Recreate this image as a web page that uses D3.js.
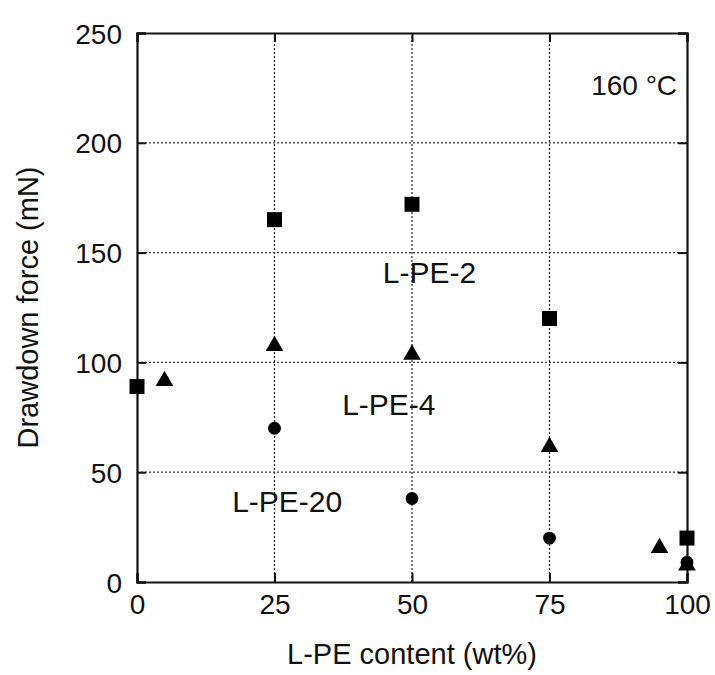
<!DOCTYPE html>
<html>
<head>
<meta charset="utf-8">
<script src="https://cdn.jsdelivr.net/npm/d3@7"></script>
<style>
  body { margin: 0; background: #fff; }
  svg { font-family: "Liberation Sans", Arial, sans-serif; }
</style>
</head>
<body>
<script>
const width = 715;
const height = 675;

const margin = { left: 137, right: 28, top: 33, bottom: 93 };

// data
const xTicks = [0, 25, 50, 75, 100];
const yTicks = [0, 50, 100, 150, 200, 250];

const lpe2X = [0, 25, 50, 75, 100];
const lpe2Y = [89, 165, 172, 120, 20];

const lpe4X = [5, 25, 50, 75, 95, 100];
const lpe4Y = [92, 108, 104, 62, 16, 8];

const lpe20X = [25, 50, 75, 100];
const lpe20Y = [70, 38, 20, 9];

// label anchors (data units, baseline)
const labels = [
    { text: "L-PE-2", x: 44.7, y: 136 },
    { text: "L-PE-4", x: 37.3, y: 76 },
    { text: "L-PE-20", x: 17.3, y: 32 }
];

let svg = d3.select("body").append("svg")
    .attr("width", width)
    .attr("height", height);

let xScale = d3.scaleLinear()
    .domain([0, 100])
    .range([margin.left, width - margin.right]);

let yScale = d3.scaleLinear()
    .domain([0, 250])
    .range([height - margin.bottom, margin.top]);

const x0 = xScale(0), x1 = xScale(100), y0 = yScale(0), y1 = yScale(250);

// dotted grid
svg.append("g").selectAll("line")
    .data(yTicks.filter(d => d > 0 && d < 250))
    .enter().append("line")
    .attr("x1", x0).attr("x2", x1)
    .attr("y1", d => yScale(d)).attr("y2", d => yScale(d))
    .attr("stroke", "#333").attr("stroke-width", 1.3)
    .attr("stroke-dasharray", "2,2");

svg.append("g").selectAll("line")
    .data(xTicks.filter(d => d > 0 && d < 100))
    .enter().append("line")
    .attr("y1", y0).attr("y2", y1)
    .attr("x1", d => xScale(d)).attr("x2", d => xScale(d))
    .attr("stroke", "#333").attr("stroke-width", 1.3)
    .attr("stroke-dasharray", "2,2");

// axes with inward ticks
let xAxis = svg.append("g")
    .attr("transform", `translate(0,${y0})`)
    .call(d3.axisBottom(xScale).tickValues(xTicks).tickSize(-9).tickPadding(12));
let xTop = svg.append("g")
    .attr("transform", `translate(0,${y1})`)
    .call(d3.axisTop(xScale).tickValues(xTicks).tickSize(-9).tickFormat(""));
let yAxis = svg.append("g")
    .attr("transform", `translate(${x0},0)`)
    .call(d3.axisLeft(yScale).tickValues(yTicks).tickSize(-9).tickPadding(15));
let yRight = svg.append("g")
    .attr("transform", `translate(${x1},0)`)
    .call(d3.axisRight(yScale).tickValues(yTicks).tickSize(-9).tickFormat(""));

[xAxis, xTop, yAxis, yRight].forEach(a => {
    a.select(".domain").attr("stroke", "#111").attr("stroke-width", 2.2);
    a.selectAll(".tick line").attr("stroke", "#111").attr("stroke-width", 2);
    a.selectAll("text").attr("fill", "#111").style("font-size", "28px");
});
xAxis.selectAll("text").attr("dy", "0.71em");
yAxis.selectAll("text").attr("dy", "0.36em");

// markers
const square = d3.symbol().type(d3.symbolSquare).size(225);
const triangle = d3.symbol().type(d3.symbolTriangle).size(135);
const circle = d3.symbol().type(d3.symbolCircle).size(130);

svg.append("g").selectAll("path")
    .data(d3.zip(lpe2X, lpe2Y))
    .enter().append("path")
    .attr("d", square)
    .attr("transform", d => `translate(${xScale(d[0])},${yScale(d[1])})`)
    .attr("fill", "#000");

svg.append("g").selectAll("path")
    .data(d3.zip(lpe20X, lpe20Y))
    .enter().append("path")
    .attr("d", circle)
    .attr("transform", d => `translate(${xScale(d[0])},${yScale(d[1])})`)
    .attr("fill", "#000");

svg.append("g").selectAll("path")
    .data(d3.zip(lpe4X, lpe4Y))
    .enter().append("path")
    .attr("d", triangle)
    .attr("transform", d => `translate(${xScale(d[0])},${yScale(d[1]) + 1})`)
    .attr("fill", "#000");

// series labels
svg.append("g").selectAll("text")
    .data(labels)
    .enter().append("text")
    .attr("x", d => xScale(d.x))
    .attr("y", d => yScale(d.y))
    .style("font-size", "30px")
    .attr("fill", "#111")
    .text(d => d.text);

svg.append("text")
    .attr("x", xScale(98.2))
    .attr("y", yScale(221.8))
    .attr("text-anchor", "end")
    .style("font-size", "28px")
    .attr("fill", "#111")
    .text("160 °C");

// axis titles
svg.append("text")
    .attr("x", (x0 + x1) / 2)
    .attr("y", 664)
    .attr("text-anchor", "middle")
    .style("font-size", "29px")
    .attr("fill", "#111")
    .text("L-PE content (wt%)");

svg.append("text")
    .attr("transform", `translate(38,${(y0 + y1) / 2}) rotate(-90)`)
    .attr("text-anchor", "middle")
    .style("font-size", "29px")
    .attr("fill", "#111")
    .text("Drawdown force (mN)");
</script>
</body>
</html>
